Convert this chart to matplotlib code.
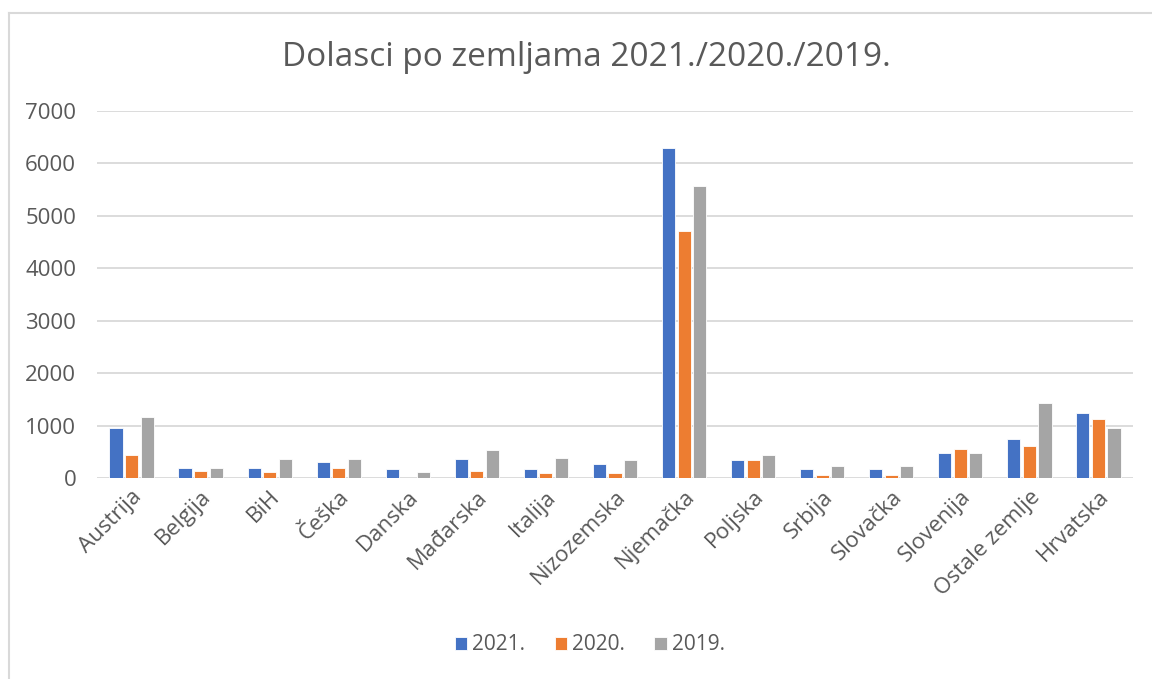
import matplotlib
matplotlib.use("Agg")
import matplotlib.pyplot as plt
import numpy as np

# data
countries = ["Austrija", "Belgija", "BiH", "Češka", "Danska", "Mađarska", "Italija",
             "Nizozemska", "Njemačka", "Poljska", "Srbija", "Slovačka", "Slovenija",
             "Ostale zemlje", "Hrvatska"]
y2021 = [950, 190, 190, 310, 165, 360, 165, 260, 6290, 340, 165, 165, 485, 750, 1245]
y2020 = [430, 140, 120, 190, 0, 140, 95, 95, 4710, 340, 65, 65, 560, 605, 1120]
y2019 = [1170, 190, 360, 360, 120, 535, 390, 340, 5560, 430, 235, 235, 485, 1440, 950]
series = [("2021.", y2021, "#4472c4"), ("2020.", y2020, "#ed7d31"), ("2019.", y2019, "#a5a5a5")]

plt.rcParams["font.family"] = ["Open Sans", "DejaVu Sans"]
TXT = "#595959"

fig = plt.figure(figsize=(11.52, 6.79), dpi=100)
ax = fig.add_axes([97 / 1152, 1 - 478 / 679, 1036 / 1152, 367 / 679])

x = np.arange(len(countries))
step, width = 0.225, 0.19
for i, (name, vals, col) in enumerate(series):
    ax.bar(x + (i - 1) * step, vals, width, color=col, edgecolor="white",
           linewidth=0.6, label=name, zorder=3)

ax.set_xlim(-0.5, len(countries) - 0.5)
ax.set_ylim(0, 7000)
ax.set_yticks(range(0, 7001, 1000))
ax.grid(axis="y", color="#d9d9d9", linewidth=1.3, zorder=0)
for s in ax.spines.values():
    s.set_visible(False)
ax.tick_params(axis="both", length=0, colors=TXT, labelsize=16)
ax.tick_params(axis="y", pad=15)
ax.set_xticks(x)
ax.set_xticklabels(countries, rotation=45, ha="right", rotation_mode="anchor")
ax.tick_params(axis="x", pad=6)

fig.text(0.509, 1 - 57 / 679, "Dolasci po zemljama 2021./2020./2019.", ha="center",
         va="center", fontsize=24, color=TXT)
fig.legend(loc="center", bbox_to_anchor=(0.512, 1 - 645 / 679), ncol=3, frameon=False,
           fontsize=15, labelcolor=TXT, handlelength=0.6, handleheight=0.6,
           handletextpad=0.25, columnspacing=1.4)

# outer chart frame (top and left edges visible in the screenshot)
fig.add_artist(plt.Line2D([9 / 1152, 9 / 1152], [0, 1 - 13 / 679], color="#d9d9d9",
                          linewidth=1.5, transform=fig.transFigure))
fig.add_artist(plt.Line2D([9 / 1152, 1], [1 - 13 / 679, 1 - 13 / 679], color="#d9d9d9",
                          linewidth=1.5, transform=fig.transFigure))

fig.savefig("out.png", dpi=100)
